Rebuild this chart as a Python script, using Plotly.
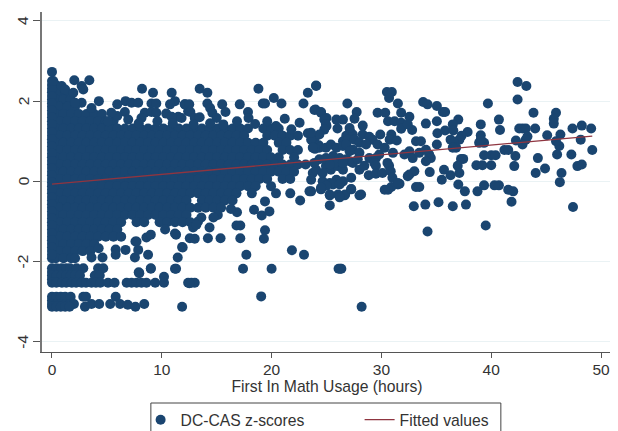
import plotly.graph_objects as go

# ---- dense mass of students: score level -> usage hours observed at that level
score_levels = [2.40, 2.22, 2.04, 1.86, 1.68, 1.50, 1.32, 1.14, 0.96, 0.78, 0.60, 0.42, 0.24, 0.06,
                -0.12, -0.30, -0.48, -0.66, -0.84, -1.02, -1.20, -1.38, -1.56, -1.74, -1.92]
hours_at_levels = [
    [0, .35],
    [0, .7, 1.2],
    [0, .35, 1.05, 1.7],
    [0, .7, 1.4, 2.1],
    [0, .35, 1.05, 1.75, 2.45, 3.15, 3.85, 4.55],
    [0, .7, 1.4, 2.1, 2.8, 3.5, 4.2, 4.9, 5.6],
    [0, .35, 1.05, 1.75, 2.45, 3.15, 3.85, 4.55, 5.25, 5.95, 6.65, 7.35, 8.05, 8.75, 9.45, 10.15, 10.85, 11.55, 12.25, 12.95, 13.65, 14.35, 15.05, 15.75, 16.45, 17.15, 17.85, 19.25, 19.95, 20.65],
    [0, .7, 1.4, 2.1, 2.8, 3.5, 4.2, 4.9, 5.6, 6.3, 7, 7.7, 8.4, 9.1, 9.8, 10.5, 11.2, 11.9, 12.6, 13.3, 14, 14.7, 15.4, 16.1, 16.8, 17.5, 19.6, 20.3, 21, 21.7, 22.4],
    [0, .35, 1.05, 1.75, 2.45, 3.15, 3.85, 4.55, 5.25, 5.95, 6.65, 7.35, 8.05, 8.75, 9.45, 10.15, 10.85, 11.55, 12.25, 12.95, 13.65, 14.35, 15.05, 15.75, 16.45, 17.15, 17.85, 18.55, 19.25, 20.65, 21.35],
    [0, .7, 1.4, 2.1, 2.8, 3.5, 4.2, 4.9, 5.6, 6.3, 7, 7.7, 8.4, 9.1, 9.8, 10.5, 11.2, 11.9, 12.6, 13.3, 14, 14.7, 15.4, 16.1, 16.8, 17.5, 18.2, 18.9, 19.6, 21, 21.7, 22.4],
    [0, .35, 1.05, 1.75, 2.45, 3.15, 3.85, 4.55, 5.25, 5.95, 6.65, 7.35, 8.05, 8.75, 9.45, 10.15, 10.85, 11.55, 12.25, 12.95, 13.65, 14.35, 15.05, 15.75, 16.45, 17.15, 17.85, 18.55, 19.25, 19.95, 20.65, 22.05],
    [0, .7, 1.4, 2.1, 2.8, 3.5, 4.2, 4.9, 5.6, 6.3, 7, 7.7, 8.4, 9.1, 9.8, 10.5, 11.2, 11.9, 12.6, 13.3, 14, 14.7, 15.4, 16.1, 16.8, 17.5, 18.2, 18.9, 19.6, 20.3, 21, 21.7, 22.4, 23.1],
    [0, .35, 1.05, 1.75, 2.45, 3.15, 3.85, 4.55, 5.25, 5.95, 6.65, 7.35, 8.05, 8.75, 9.45, 10.15, 10.85, 11.55, 12.25, 12.95, 13.65, 14.35, 15.05, 15.75, 16.45, 17.15, 17.85, 18.55, 19.25, 19.95, 20.65, 21.35, 22.05],
    [0, .7, 1.4, 2.1, 2.8, 3.5, 4.2, 4.9, 5.6, 6.3, 7, 7.7, 8.4, 9.1, 9.8, 10.5, 11.2, 11.9, 12.6, 13.3, 14, 14.7, 15.4, 16.1, 16.8, 17.5, 18.2, 18.9, 19.6, 21, 21.7],
    [0, .35, 1.05, 1.75, 2.45, 3.15, 3.85, 4.55, 5.25, 5.95, 6.65, 7.35, 8.05, 8.75, 9.45, 10.15, 10.85, 11.55, 12.25, 12.95, 13.65, 14.35, 15.05, 15.75, 16.45, 17.15, 17.85, 18.55, 19.95],
    [0, .7, 1.4, 2.1, 2.8, 3.5, 4.2, 4.9, 5.6, 6.3, 7, 7.7, 8.4, 9.1, 9.8, 10.5, 11.2, 11.9, 12.6, 13.3, 14, 14.7, 15.4, 16.1, 16.8, 18.2],
    [0, .35, 1.05, 1.75, 2.45, 3.15, 3.85, 4.55, 5.25, 5.95, 6.65, 7.35, 8.05, 8.75, 9.45, 10.15, 10.85, 11.55, 12.25, 13.65, 14.35, 15.05, 15.75, 16.45],
    [0, .7, 1.4, 2.1, 2.8, 3.5, 4.2, 4.9, 5.6, 6.3, 7, 7.7, 8.4, 9.1, 9.8, 10.5, 11.2, 11.9, 12.6, 13.3, 14, 14.7, 15.4],
    [0, .35, 1.05, 1.75, 2.45, 3.15, 3.85, 4.55, 5.25, 5.95, 6.65, 7.35, 8.05, 8.75, 9.45, 10.15, 10.85, 11.55, 12.25],
    [0, .7, 1.4, 2.1, 2.8, 3.5, 4.2, 4.9, 5.6, 6.3, 7.7, 8.4, 9.8, 10.5, 11.2, 11.9, 12.6],
    [0, .35, 1.05, 1.75, 2.45, 3.15, 3.85, 4.55, 5.25, 5.95],
    [0, .7, 1.4, 2.1, 2.8, 3.5, 4.2, 4.9, 5.6, 6.3],
    [0, .35, 1.05, 1.75, 2.45, 3.15, 3.85],
    [0, .7, 1.4, 2.1, 2.8, 3.5],
    [0, .35, 1.05, 1.75, 2.1],
]

# students with zero recorded usage fill the left edge continuously
zero_usage_scores = [2.5, 2.31, 2.13, 1.95, 1.77, 1.59, 1.41, 1.23, 1.05, 0.87, 0.69, 0.51, 0.33, 0.15, -0.03, -0.21,
                     -0.39, -0.57, -0.75, -0.93, -1.11, -1.29, -1.47, -1.65, -1.83, -2.26, -2.44, -2.97]

# ---- individually readable students: (hours, z-score)
low_tail = [
    (0, -2.17), (.42, -2.17), (.88, -2.17), (1.3, -2.17), (1.64, -2.17), (2.24, -2.17), (2.85, -2.17), (4.2, -2.17), (4.67, -2.17),
    (0, -2.35), (.42, -2.35), (.88, -2.35), (1.3, -2.35), (1.7, -2.35), (2.1, -2.35), (2.55, -2.35), (3.9, -2.35), (4.35, -2.35),
    (0, -2.53), (.4, -2.53), (.9, -2.53), (1.3, -2.53), (1.8, -2.53), (2.2, -2.53), (2.7, -2.53), (3.1, -2.53), (3.6, -2.53), (4.0, -2.53), (4.4, -2.53),
    (5.1, -2.53), (5.7, -2.53), (6.8, -2.53), (7.25, -2.53), (7.7, -2.53), (8.15, -2.53), (8.6, -2.53), (9.4, -2.53), (10.2, -2.53), (10.2, -2.38),
    (12.4, -2.53), (12.7, -2.53), (13.0, -2.53), (7.9, -2.27), (9.0, -2.18), (11.2, -2.18),
    (0, -2.88), (.4, -2.88), (.8, -2.88), (1.2, -2.88), (1.7, -2.88), (2.85, -2.88), (3.1, -2.88), (5.8, -2.88),
    (0, -3.06), (.4, -3.06), (.8, -3.06), (1.2, -3.06), (1.6, -3.06), (2.0, -3.06), (0, -3.13), (.4, -3.13), (.8, -3.13), (1.2, -3.13), (1.6, -3.13),
    (3.0, -3.13), (3.6, -3.06), (4.3, -3.06), (5.3, -3.06), (6.2, -3.06), (6.9, -3.08), (7.6, -3.13), (8.4, -3.06), (11.85, -3.13),
    (4.25, -1.67), (3.6, -1.9), (4.6, -1.9), (5.8, -1.7), (5.8, -1.83), (6.7, -1.71), (7.55, -1.9), (7.6, -1.5), (7.85, -1.71), (8.75, -1.83),
    (9.0, -2.17), (7.95, -2.29), (11.3, -1.33), (11.85, -1.64), (11.45, -1.9), (11.3, -2.18), (12.55, -1.42), (13.0, -1.43), (14.2, -1.42), (14.35, -1.15),
    (15.35, -1.42), (17.15, -1.42), (16.8, -1.1), (17.15, -1.1), (19.4, -1.22), (19.3, -1.43), (17.7, -1.83), (17.4, -2.18), (20.0, -2.18), (19.05, -2.87),
    (21.85, -1.72), (22.95, -1.83), (26.1, -2.18), (26.35, -2.18), (12.5, -2.54), (28.2, -3.13),
    (19.1, -.85), (19.8, -.75), (18.4, -.71), (16.85, -.77), (16.3, -.69), (19.4, -.5), (20.4, -.3), (21.7, -.3), (22.6, -.48), (23.45, -.25), (24.5, -.2),
    (25.3, -.35), (25.3, -.6), (26.2, -.38), (26.65, -.35), (27.25, -.2), (28.0, -.35), (15.1, -.84), (14.7, -.9), (13.6, -.9), (13.3, -1.0), (12.85, -1.15), (13.15, -1.08),
    (11.2, -1.3), (8.6, -1.4), (10.3, -1.2), (9.0, -1.33), (7.7, -1.5), (11.9, -1.65),
]
top_edge = [
    (0, 2.73), (.12, 2.5), (.88, 2.38), (1.2, 2.29), (2.03, 2.52), (3.4, 2.52), (2.7, 2.38), (2.85, 2.29), (1.94, 2.21), (8.2, 2.31), (9.2, 2.21), (10.9, 2.21),
    (4.27, 2.0), (6.7, 2.0), (7.25, 1.96), (7.85, 1.96), (5.94, 1.92), (9.06, 1.94), (9.5, 1.94), (11.2, 2.0), (10.75, 1.92), (12.1, 1.92), (2.7, 1.96), (2.1, 1.96),
    (3.6, 1.83), (6.64, 1.73), (6.94, 1.54), (5.94, 1.63), (5.4, 1.71), (8.45, 1.71), (9.06, 1.73), (9.5, 1.71), (10.4, 1.69), (11.5, 1.61), (10.9, 1.61), (8.15, 1.58), (12.4, 1.75), (5.1, 1.5),
    (13.45, 2.31), (14.15, 2.21), (18.8, 2.31), (23.3, 2.21), (24.05, 2.39), (20.2, 2.08), (19.2, 1.94), (19.4, 1.94), (20.9, 1.94), (22.9, 1.94), (12.1, 1.92), (12.5, 1.92),
    (14.15, 1.94), (15.5, 1.92), (17.1, 1.92), (12.6, 1.73), (14.4, 1.83), (14.6, 1.71), (15.8, 1.73), (17.85, 1.73), (24.0, 1.79), (24.5, 1.73), (25.0, 1.58), (13.0, 1.58), (13.45, 1.6),
    (15.0, 1.58), (17.9, 1.58), (21.2, 1.56), (19.6, 1.5), (18.5, 1.43), (16.85, 1.5), (22.55, 1.46), (11.8, 1.58), (25.0, 1.38),
    (7.9, 1.45), (9.6, 1.5), (11.0, 1.45), (12.9, 1.42), (14.4, 1.45), (15.6, 1.42), (20.4, 1.38), (21.8, 1.3), (23.3, 1.2), (23.9, 1.05), (24.3, .9),
]
right_tail = [
    (24.06, 2.38), (26.9, 1.94), (30.5, 2.23), (30.95, 2.23), (30.7, 2.08), (31.5, 1.94), (33.8, 1.98), (34.2, 1.92), (35.05, 1.88), (35.6, 1.73), (35.8, 1.73), (39.7, 1.94),
    (42.4, 2.48), (43.2, 2.38), (42.4, 2.04), (43.85, 1.71), (45.9, 1.71), (45.7, 1.56), (45.7, 1.44), (47.4, 1.32), (48.25, 1.39), (49.1, 1.32), (48.15, 1.04), (49.2, .78), (47.3, .67),
    (46.0, .67), (46.3, 1.17), (45.1, 1.15), (46.2, .88), (45.9, 1.0), (44.0, 1.32), (42.85, 1.32), (42.55, 1.32), (43.15, 1.32), (43.3, 1.12), (43.15, 1.04), (42.85, .92), (42.25, 1.02),
    (40.7, 1.54), (40.8, 1.28), (39.05, 1.42), (39.05, 1.15), (38.9, .96), (39.35, .96), (39.05, 1.04), (41.2, .78), (41.55, .78), (42.2, .63), (42.1, .38), (40.0, .65), (40.4, .65), (39.35, .65),
    (38.65, .4), (39.2, .4), (40.0, .4), (44.25, .58), (44.9, .32), (44.05, .21), (46.4, .21), (46.25, -.02), (47.85, .38), (48.25, .42), (47.45, -.64), (41.85, -.51), (42.0, -.25), (41.55, -.21),
    (40.7, -.1), (40.3, -.1), (39.35, -.1), (38.75, -.25), (39.5, -1.1), (37.0, 1.54), (36.5, 1.42), (37.85, 1.23), (37.3, 1.14), (37.1, 1.04), (36.3, 1.04), (36.6, .96), (36.8, .84), (36.5, .84),
    (35.05, 1.5), (34.05, 1.44), (35.1, 1.2), (35.8, 1.27), (36.55, 1.27), (35.05, .92), (33.15, 1.0), (33.6, 1.0), (37.25, .56), (37.45, .56), (36.95, .39), (37.1, .21), (35.7, .29), (36.3, .15), (35.5, .04),
    (37.0, -.08), (37.6, -.25), (37.7, -.58), (36.5, -.62), (35.2, -.52), (34.0, -.58), (32.95, -.62), (34.2, -1.25), (26.25, -2.18), (34.4, .23), (33.15, -.14), (33.45, -.14),
    (32.55, .17), (33.0, .25), (32.4, .13), (31.5, -.08), (31.65, -.06), (30.9, -.14), (30.6, -.21), (30.3, -.21), (28.15, -.33), (26.7, -.33), (26.05, -.33), (26.2, -.4), (27.25, -.19), (27.25, .09),
    (25.3, -.33), (23.6, -.25), (24.5, -.19),
    (29.65, 1.71), (30.35, 1.71), (31.8, 1.71), (23.9, 1.78), (24.5, 1.71), (24.8, 1.54), (24.95, 1.42), (24.8, 1.29), (24.35, 1.17), (25.9, 1.54), (26.5, 1.54), (27.75, 1.73), (27.55, 1.56), (26.0, 1.32),
    (28.3, 1.39), (30.6, 1.5), (31.2, 1.5), (31.8, 1.46), (32.55, 1.61), (31.8, 1.31), (32.8, 1.28), (32.4, 1.42), (27.15, 1.25), (26.8, 1.14), (27.4, 1.17), (26.5, 1.0), (26.95, 1.04), (27.55, 1.04), (27.1, 1.33),
    (28.3, 1.17), (28.9, 1.11), (29.2, 1.04), (29.9, 1.17), (30.9, 1.17), (30.75, 1.04), (31.4, 1.02), (29.65, .92), (30.3, .84), (31.05, .71),
    (24.35, .84), (24.95, .84), (25.4, .92), (25.9, .84), (23.95, .81), (26.5, .88), (26.8, .92), (28.0, .96), (28.6, .92), (27.4, .79), (27.1, .75), (28.0, .71),
    (28.9, .58), (29.5, .58), (29.8, .67), (30.55, .46), (30.7, .39), (32.1, .67), (32.55, .75), (32.85, .58), (33.45, .71), (34.05, .79), (34.35, .67), (34.5, .58), (34.05, .5),
    (24.35, .55), (24.95, .58), (25.6, .63), (26.2, .58), (26.8, .55), (27.1, .5), (24.95, .38), (25.4, .29), (26.0, .38), (26.5, .29), (28.0, .29), (28.45, .39), (29.35, .46), (29.5, .39),
    (28.85, .15), (29.5, .19), (30.1, .21), (30.85, .25), (31.0, .09), (31.5, -.04), (26.5, 0), (25.9, .04), (25.3, -.04), (24.65, 0), (23.75, .21), (23.6, .04), (25.6, -.08), (25.0, -.11), (26.2, -.08), (24.5, -.16),
    (24.05, .29), (24.65, .21), (23.9, .46), (25.75, .46), (25.3, .42), (26.5, .46), (27.4, .46), (27.85, .55), (23.6, 1.04), (23.6, 1.21), (23.75, .84),
]

fit_hours = [0, 49.2]
fit_scores = [-0.07, 1.13]

tick_x = [0, 10, 20, 30, 40, 50]
tick_y = [-4, -2, 0, 2, 4]
tick_y_labels = ["-4", "-2", "0", "2", "4"]

NAVY = "#1a4570"
MAROON = "#8f3540"
FONT = "Liberation Sans, Arial, sans-serif"

xs, ys = [], []
for level, hours in zip(score_levels, hours_at_levels):
    for h in hours:
        xs.append(h)
        ys.append(level)
for s in zero_usage_scores:
    xs.append(0)
    ys.append(s)
for group in (low_tail, top_edge, right_tail):
    for h, s in group:
        xs.append(h)
        ys.append(s)

fig = go.Figure()
fig.add_trace(go.Scatter(x=xs, y=ys, mode="markers", name="DC-CAS z-scores",
                         marker=dict(color=NAVY, size=10, line=dict(width=0))))
fig.add_trace(go.Scatter(x=fit_hours, y=fit_scores, mode="lines", name="Fitted values",
                         line=dict(color=MAROON, width=1.3)))

# rotated y tick labels sit further from the axis than plotly's tick labels can
y_labels = [dict(text=label, xref="paper", yref="y", x=-19 / 570, y=value, showarrow=False,
                 textangle=-90, xanchor="center", yanchor="middle", font=dict(size=15.5, color="#333333"))
            for label, value in zip(tick_y_labels, tick_y)]

fig.update_layout(
    width=610, height=423,
    margin=dict(l=34, r=6, t=4, b=79, autoexpand=False),
    paper_bgcolor="white", plot_bgcolor="white",
    font=dict(family=FONT, size=15, color="#333333"),
    showlegend=True,
    legend=dict(orientation="h", x=0.173, y=-0.15, xanchor="left", yanchor="top",
                borderwidth=0, bgcolor="rgba(0,0,0,0)",
                font=dict(size=15.7), itemwidth=30, entrywidth=174, entrywidthmode="pixels"),
    annotations=y_labels,
    shapes=[dict(type="rect", xref="paper", yref="paper", x0=0.191, x1=0.805, y0=-0.15, y1=-0.30,
                 line=dict(color="#444444", width=1), fillcolor="rgba(0,0,0,0)", layer="below")],
    xaxis=dict(range=[-0.91, 51.0], tickmode="array", tickvals=tick_x, ticks="outside", ticklen=5,
               tickcolor="#555555", showgrid=False, zeroline=False, showline=True, linecolor="#555555", linewidth=1.2,
               title=dict(text="First In Math Usage (hours)", font=dict(size=15.7), standoff=1),
               tickfont=dict(size=15.5), ticklabelstandoff=-2),
    yaxis=dict(range=[-4.257, 4.224], tickmode="array", tickvals=tick_y, showticklabels=False, ticks="outside", ticklen=7,
               tickcolor="#555555", showgrid=True, gridcolor="#eaf2f4", gridwidth=1.3, zeroline=False,
               showline=True, linecolor="#777777", linewidth=1.6),
)
fig.write_html("out.html")
